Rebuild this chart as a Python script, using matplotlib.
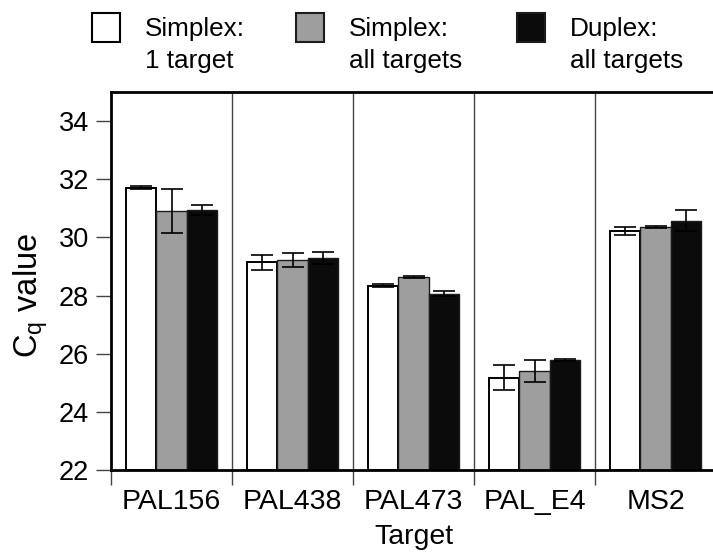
import matplotlib
matplotlib.use("Agg")
import matplotlib.pyplot as plt
import numpy as np
from matplotlib.patches import Rectangle

# ── Data ─────────────────────────────────────────────────────────────────────
targets = ["PAL156", "PAL438", "PAL473", "PAL_E4", "MS2"]
series_names = [("Simplex:", "1 target"), ("Simplex:", "all targets"), ("Duplex:", "all targets")]

simplex_one = [31.70, 29.15, 28.34, 25.18, 30.22]
simplex_one_err = [0.05, 0.26, 0.04, 0.42, 0.14]
simplex_all = [30.90, 29.22, 28.64, 25.40, 30.35]
simplex_all_err = [0.75, 0.23, 0.04, 0.37, 0.04]
duplex_all = [30.94, 29.29, 28.07, 25.78, 30.58]
duplex_all_err = [0.18, 0.21, 0.08, 0.03, 0.35]

yticks = [22, 24, 26, 28, 30, 32, 34]

# ── Style ────────────────────────────────────────────────────────────────────
plt.rcParams["font.family"] = ["Liberation Sans", "DejaVu Sans"]
plt.rcParams["mathtext.fontset"] = "custom"
plt.rcParams["mathtext.rm"] = "Liberation Sans"

FILLS = ["white", "#9e9e9e", "#0b0b0b"]
EDGES = ["black", "#1c1c1c", "#1c1c1c"]
EDGE_W = [1.4, 1.0, 1.0]
SEP_COLOR = "#444444"

W, H = 713, 554
fig = plt.figure(figsize=(W / 100, H / 100), dpi=100)
ax = fig.add_axes([111 / W, 1 - 470 / H, 605 / W, 378 / H])

x = np.arange(len(targets))
width = 0.25
values = [simplex_one, simplex_all, duplex_all]
errors = [simplex_one_err, simplex_all_err, duplex_all_err]

for i, (vals, errs) in enumerate(zip(values, errors)):
    pos = x + (i - 1) * width
    ax.bar(pos, np.array(vals) - 22, width=width, bottom=22, color=FILLS[i],
           edgecolor=EDGES[i], linewidth=EDGE_W[i], zorder=2)
    ax.errorbar(pos, vals, yerr=errs, fmt="none", ecolor="black",
                elinewidth=1.2, capsize=7.9, capthick=1.2, zorder=3)

# group separators
for b in np.arange(0.5, len(targets) - 0.5):
    ax.axvline(b, color=SEP_COLOR, lw=1.0, zorder=1)

ax.set_xlim(-0.5, len(targets) - 0.5)
ax.set_ylim(22, 35)
ax.set_yticks(yticks)
ax.tick_params(axis="y", length=10.8, width=1.0, color=SEP_COLOR, pad=5, labelsize=19.5)

ax.set_xticks(x)
ax.set_xticklabels(targets)
ax.set_xticks(np.arange(-0.5, len(targets)), minor=True)
ax.tick_params(axis="x", which="major", length=0, pad=14, labelsize=20.5)
ax.tick_params(axis="x", which="minor", length=10.8, width=1.0, color=SEP_COLOR)

for side in ["left", "bottom", "top"]:
    ax.spines[side].set_linewidth(2.0)
ax.spines["right"].set_visible(False)

ax.set_xlabel("Target", fontsize=20.5, labelpad=6)
ax.set_ylabel(r"C$_\mathregular{q}$ value", fontsize=23.5)
ax.yaxis.set_label_coords(-0.101, 0.463)

# ── Legend (drawn in figure pixels) ──────────────────────────────────────────
square_x = [92, 296, 517]
for i, (line1, line2) in enumerate(series_names):
    sx = square_x[i]
    fig.patches.append(Rectangle((sx / W, 1 - 42 / H), 28 / W, 29 / H,
                                 transform=fig.transFigure, facecolor=FILLS[i],
                                 edgecolor=EDGES[i], linewidth=1.5))
    fig.text((sx + 53) / W, 1 - 36 / H, line1, fontsize=18.8, va="baseline")
    fig.text((sx + 53) / W, 1 - 68 / H, line2, fontsize=18.8, va="baseline")

fig.savefig("out.png", dpi=100)
